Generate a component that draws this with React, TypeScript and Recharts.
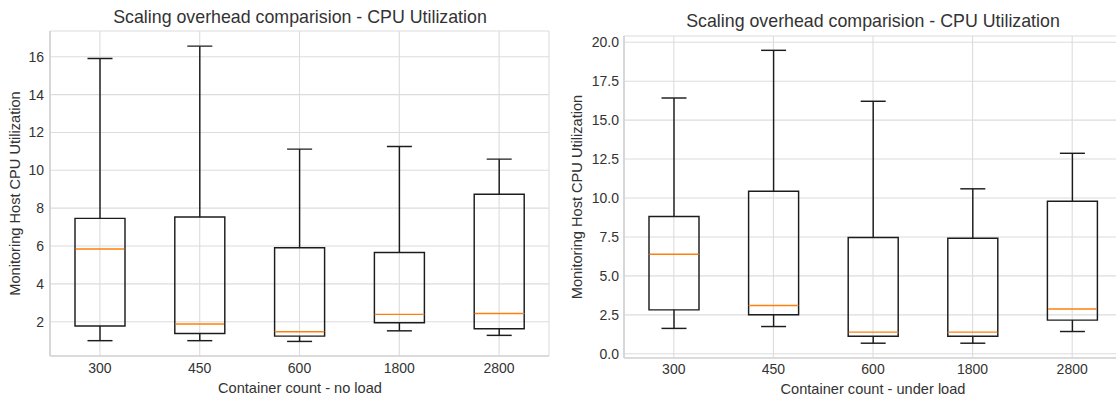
import React from 'react';
import { ComposedChart, Bar, XAxis, YAxis, CartesianGrid } from 'recharts';

// Container counts on the x axis
const categories = ['300', '450', '600', '1800', '2800'];

// Box statistics, no load
const noLoadMin = [1.0, 1.0, 0.96, 1.52, 1.28];
const noLoadQ1 = [1.77, 1.38, 1.24, 1.95, 1.63];
const noLoadMedian = [5.84, 1.88, 1.47, 2.39, 2.44];
const noLoadQ3 = [7.46, 7.53, 5.91, 5.66, 8.74];
const noLoadMax = [15.91, 16.56, 11.12, 11.26, 10.59];

// Box statistics, under load
const loadMin = [1.63, 1.75, 0.68, 0.68, 1.43];
const loadQ1 = [2.82, 2.5, 1.13, 1.13, 2.16];
const loadMedian = [6.39, 3.1, 1.39, 1.39, 2.87];
const loadQ3 = [8.81, 10.44, 7.46, 7.42, 9.79];
const loadMax = [16.42, 19.48, 16.21, 10.59, 12.87];

// Y ticks and ranges
const noLoadTicks = [2, 4, 6, 8, 10, 12, 14, 16];
const noLoadDomain: [number, number] = [0.19, 17.36];
const loadTicks = [0, 2.5, 5, 7.5, 10, 12.5, 15, 17.5, 20];
const loadDomain: [number, number] = [-0.27, 20.4];

const TITLE = 'Scaling overhead comparision - CPU Utilization';
const Y_LABEL = 'Monitoring Host CPU Utilization';

const FONT = '"Liberation Sans", Arial, Helvetica, sans-serif';
const TEXT = '#333333';
const BOX = '#1c1c1c';
const MEDIAN = '#ff7f0e';
const GRID = '#dcdcdc';
const FRAME = '#d4d4d4';
const LW = 1.45;

// Stack segments: invisible base up to the minimum, then whisker, two box halves, whisker
function buildRows(mins: number[], q1: number[], med: number[], q3: number[], maxs: number[]) {
  return categories.map((count, i) => ({
    count,
    base: mins[i],
    lowWhisker: q1[i] - mins[i],
    lowBox: med[i] - q1[i],
    highBox: q3[i] - med[i],
    highWhisker: maxs[i] - q3[i],
  }));
}

const noLoadRows = buildRows(noLoadMin, noLoadQ1, noLoadMedian, noLoadQ3, noLoadMax);
const loadRows = buildRows(loadMin, loadQ1, loadMedian, loadQ3, loadMax);

function span(props: any) {
  const { x, y, width, height } = props;
  const top = Math.min(y, y + height);
  const bottom = Math.max(y, y + height);
  return { left: x, right: x + width, cx: x + width / 2, top, bottom, width };
}

const EmptyShape = () => <g />;

function LowWhiskerShape(props: any) {
  const s = span(props);
  return (
    <g>
      <line x1={s.cx} x2={s.cx} y1={s.top} y2={s.bottom} stroke={BOX} strokeWidth={LW} />
      <line x1={s.cx - s.width / 4} x2={s.cx + s.width / 4} y1={s.bottom} y2={s.bottom} stroke={BOX} strokeWidth={LW} />
    </g>
  );
}

function LowBoxShape(props: any) {
  const s = span(props);
  return (
    <g>
      <path
        d={`M${s.left},${s.top} L${s.left},${s.bottom} L${s.right},${s.bottom} L${s.right},${s.top}`}
        fill="none"
        stroke={BOX}
        strokeWidth={LW}
      />
    </g>
  );
}

function HighBoxShape(props: any) {
  const s = span(props);
  return (
    <g>
      <path
        d={`M${s.left},${s.bottom} L${s.left},${s.top} L${s.right},${s.top} L${s.right},${s.bottom}`}
        fill="none"
        stroke={BOX}
        strokeWidth={LW}
      />
      {/* median sits on the lower edge of the upper half */}
      <line x1={s.left + LW / 2} x2={s.right - LW / 2} y1={s.bottom} y2={s.bottom} stroke={MEDIAN} strokeWidth={LW} />
    </g>
  );
}

function HighWhiskerShape(props: any) {
  const s = span(props);
  return (
    <g>
      <line x1={s.cx} x2={s.cx} y1={s.top} y2={s.bottom} stroke={BOX} strokeWidth={LW} />
      <line x1={s.cx - s.width / 4} x2={s.cx + s.width / 4} y1={s.top} y2={s.top} stroke={BOX} strokeWidth={LW} />
    </g>
  );
}

type PanelProps = {
  rows: any[];
  ticks: number[];
  domain: [number, number];
  decimals: number;
  left: number;
  width: number;
  margin: { top: number; right: number; bottom: number; left: number };
  yAxisWidth: number;
  xAxisHeight: number;
  xTickMargin: number;
  yTickMargin: number;
};

function BoxPanel(p: PanelProps) {
  const tickStyle = { fill: TEXT, fontSize: 14, fontFamily: FONT };
  return (
    <div style={{ position: 'absolute', left: p.left, top: 0 }}>
      <ComposedChart width={p.width} height={398} data={p.rows} margin={p.margin} barSize={50}>
        <CartesianGrid stroke={GRID} strokeWidth={1.1} />
        <XAxis
          dataKey="count"
          type="category"
          height={p.xAxisHeight}
          tickLine={false}
          tickSize={0}
          tickMargin={p.xTickMargin}
          axisLine={{ stroke: FRAME, strokeWidth: 1.7 }}
          tick={tickStyle}
          interval={0}
        />
        <XAxis
          xAxisId="top"
          dataKey="count"
          type="category"
          orientation="top"
          height={0}
          tick={false}
          tickLine={false}
          axisLine={{ stroke: FRAME, strokeWidth: 1.7 }}
        />
        <YAxis
          type="number"
          domain={p.domain}
          allowDataOverflow
          ticks={p.ticks}
          interval={0}
          width={p.yAxisWidth}
          tickLine={false}
          tickSize={0}
          tickMargin={p.yTickMargin}
          axisLine={{ stroke: FRAME, strokeWidth: 1.7 }}
          tick={tickStyle}
          tickFormatter={(v: number) => v.toFixed(p.decimals)}
        />
        <YAxis
          yAxisId="right"
          orientation="right"
          type="number"
          domain={[0, 1]}
          width={0}
          tick={false}
          tickLine={false}
          axisLine={{ stroke: FRAME, strokeWidth: 1.7 }}
        />
        <Bar dataKey="base" stackId="box" shape={EmptyShape} isAnimationActive={false} />
        <Bar dataKey="lowWhisker" stackId="box" shape={LowWhiskerShape} isAnimationActive={false} />
        <Bar dataKey="lowBox" stackId="box" shape={LowBoxShape} isAnimationActive={false} />
        <Bar dataKey="highBox" stackId="box" shape={HighBoxShape} isAnimationActive={false} />
        <Bar dataKey="highWhisker" stackId="box" shape={HighWhiskerShape} isAnimationActive={false} />
      </ComposedChart>
    </div>
  );
}

export default function App() {
  return (
    <div
      style={{
        position: 'absolute',
        left: 0,
        top: 0,
        width: 1116,
        height: 398,
        overflow: 'hidden',
        background: '#ffffff',
        fontFamily: FONT,
      }}
    >
      <BoxPanel
        rows={noLoadRows}
        ticks={noLoadTicks}
        domain={noLoadDomain}
        decimals={0}
        left={0}
        width={560}
        margin={{ top: 31, right: 11, bottom: 0, left: 0 }}
        yAxisWidth={50}
        xAxisHeight={42}
        xTickMargin={7}
        yTickMargin={6}
      />
      <BoxPanel
        rows={loadRows}
        ticks={loadTicks}
        domain={loadDomain}
        decimals={1}
        left={556}
        width={580}
        margin={{ top: 36, right: 14, bottom: 0, left: 0 }}
        yAxisWidth={68}
        xAxisHeight={40}
        xTickMargin={6}
        yTickMargin={5}
      />
      <svg
        width={1116}
        height={398}
        style={{ position: 'absolute', left: 0, top: 0, pointerEvents: 'none' }}
        fontFamily={FONT}
        fill={TEXT}
      >
        <text x={300} y={22.5} textAnchor="middle" fontSize={17.8}>{TITLE}</text>
        <text x={873} y={26.5} textAnchor="middle" fontSize={17.8}>{TITLE}</text>
        <text x={300} y={393} textAnchor="middle" fontSize={14.6}>Container count - no load</text>
        <text x={873} y={394} textAnchor="middle" fontSize={14.6}>Container count - under load</text>
        <text transform="translate(19.5,193.5) rotate(-90)" textAnchor="middle" fontSize={14.6}>{Y_LABEL}</text>
        <text transform="translate(582,197) rotate(-90)" textAnchor="middle" fontSize={14.6}>{Y_LABEL}</text>
      </svg>
    </div>
  );
}
